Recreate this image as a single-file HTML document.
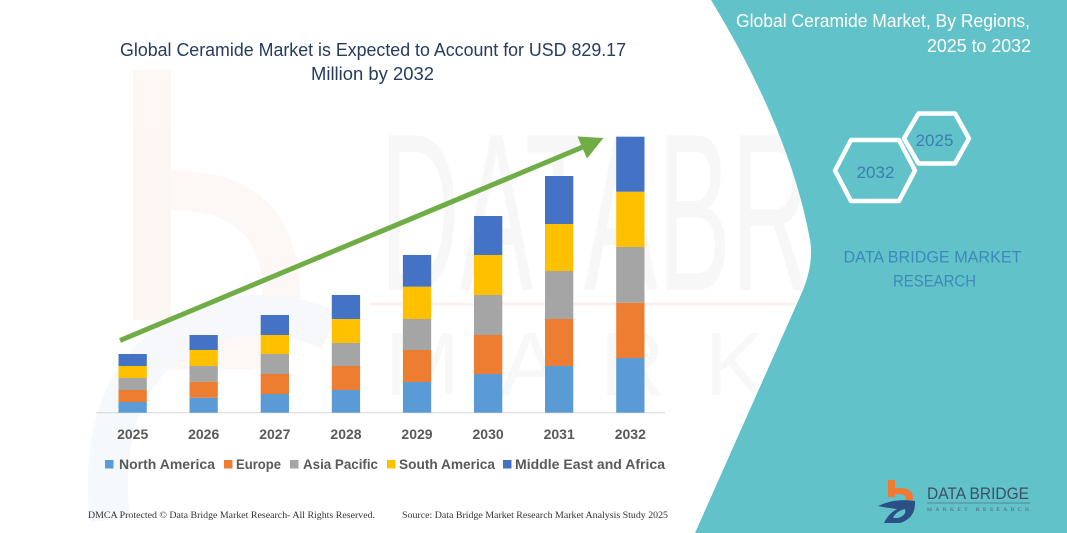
<!DOCTYPE html>
<html><head><meta charset="utf-8"><style>
html,body{margin:0;padding:0;background:#fff;}
svg{display:block;}
</style></head><body>
<svg width="1067" height="533" viewBox="0 0 1067 533" xmlns="http://www.w3.org/2000/svg">
<rect width="1067" height="533" fill="#ffffff"/>
<!-- faint watermark -->
<g opacity="0.5">
<rect x="133" y="70" width="38" height="250" fill="#fdf1ea"/>
<path d="M171 170 Q300 170 300 300 Q300 360 250 370 L171 370 L171 330 L230 330 Q262 325 262 290 Q262 210 171 210 Z" fill="#fdf3ee"/>
<path d="M110 520 Q95 380 190 330 Q260 300 330 330" fill="none" stroke="#eef3f8" stroke-width="40"/>
</g>
<text x="380" y="290" font-family="Liberation Sans, sans-serif" font-size="225" fill="#f7f7f7" textLength="700" lengthAdjust="spacingAndGlyphs">DATABRIDGE</text>
<text x="385" y="395" font-family="Liberation Sans, sans-serif" font-size="90" fill="#f8f8f8" letter-spacing="40">MARKET RESEARCH</text>
<line x1="370" y1="304" x2="1000" y2="304" stroke="#fcf2ec" stroke-width="3"/>

<!-- teal panel -->
<path d="M711 0 Q790 130 810 240 Q814 262 803 290 L695 533 L1067 533 L1067 0 Z" fill="#61c3c9"/>

<!-- title -->
<text x="373" y="56" text-anchor="middle" font-family="Liberation Sans, sans-serif" font-size="18" fill="#253c5e" textLength="506" lengthAdjust="spacingAndGlyphs">Global Ceramide Market is Expected to Account for USD 829.17</text>
<text x="372.5" y="80" text-anchor="middle" font-family="Liberation Sans, sans-serif" font-size="18" fill="#253c5e" textLength="123" lengthAdjust="spacingAndGlyphs">Million by 2032</text>

<!-- axis -->
<line x1="96" y1="412.7" x2="665" y2="412.7" stroke="#d9d9d9" stroke-width="1.2"/>

<!-- bars -->
<g>
<rect x="118.5" y="402" width="28.3" height="10.7" fill="#5b9bd5"/>
<rect x="118.5" y="390" width="28.3" height="12" fill="#ed7d31"/>
<rect x="118.5" y="378" width="28.3" height="12" fill="#a5a5a5"/>
<rect x="118.5" y="366" width="28.3" height="12" fill="#ffc000"/>
<rect x="118.5" y="354" width="28.3" height="12" fill="#4472c4"/>
<rect x="189.5" y="397.7" width="28.3" height="15" fill="#5b9bd5"/>
<rect x="189.5" y="381.7" width="28.3" height="16" fill="#ed7d31"/>
<rect x="189.5" y="366" width="28.3" height="15.7" fill="#a5a5a5"/>
<rect x="189.5" y="350" width="28.3" height="16" fill="#ffc000"/>
<rect x="189.5" y="335" width="28.3" height="15" fill="#4472c4"/>
<rect x="260.7" y="394" width="28.3" height="18.7" fill="#5b9bd5"/>
<rect x="260.7" y="374" width="28.3" height="20" fill="#ed7d31"/>
<rect x="260.7" y="354" width="28.3" height="20" fill="#a5a5a5"/>
<rect x="260.7" y="335" width="28.3" height="19" fill="#ffc000"/>
<rect x="260.7" y="315" width="28.3" height="20" fill="#4472c4"/>
<rect x="331.8" y="390" width="28.3" height="22.7" fill="#5b9bd5"/>
<rect x="331.8" y="366" width="28.3" height="24" fill="#ed7d31"/>
<rect x="331.8" y="343" width="28.3" height="23" fill="#a5a5a5"/>
<rect x="331.8" y="319" width="28.3" height="24" fill="#ffc000"/>
<rect x="331.8" y="295" width="28.3" height="24" fill="#4472c4"/>
<rect x="402.9" y="382" width="28.3" height="30.7" fill="#5b9bd5"/>
<rect x="402.9" y="350" width="28.3" height="32" fill="#ed7d31"/>
<rect x="402.9" y="319" width="28.3" height="31" fill="#a5a5a5"/>
<rect x="402.9" y="286.7" width="28.3" height="32.3" fill="#ffc000"/>
<rect x="402.9" y="255" width="28.3" height="31.7" fill="#4472c4"/>
<rect x="474" y="374" width="28.3" height="38.7" fill="#5b9bd5"/>
<rect x="474" y="335" width="28.3" height="39" fill="#ed7d31"/>
<rect x="474" y="295" width="28.3" height="40" fill="#a5a5a5"/>
<rect x="474" y="255" width="28.3" height="40" fill="#ffc000"/>
<rect x="474" y="216" width="28.3" height="39" fill="#4472c4"/>
<rect x="545" y="366" width="28.3" height="46.7" fill="#5b9bd5"/>
<rect x="545" y="319" width="28.3" height="47" fill="#ed7d31"/>
<rect x="545" y="271" width="28.3" height="48" fill="#a5a5a5"/>
<rect x="545" y="224" width="28.3" height="47" fill="#ffc000"/>
<rect x="545" y="176" width="28.3" height="48" fill="#4472c4"/>
<rect x="616.2" y="358" width="28.3" height="54.7" fill="#5b9bd5"/>
<rect x="616.2" y="302.7" width="28.3" height="55.3" fill="#ed7d31"/>
<rect x="616.2" y="247" width="28.3" height="55.7" fill="#a5a5a5"/>
<rect x="616.2" y="191.7" width="28.3" height="55.3" fill="#ffc000"/>
<rect x="616.2" y="136.7" width="28.3" height="55" fill="#4472c4"/>
</g>

<!-- arrow -->
<line x1="120" y1="340.5" x2="584" y2="146.5" stroke="#70ad47" stroke-width="5"/>
<polygon points="603.5,138 577.5,136.5 587,158.5" fill="#70ad47"/>

<!-- year labels -->
<g font-family="Liberation Sans, sans-serif" font-size="14" font-weight="bold" fill="#595959" text-anchor="middle">
<text x="132.7" y="439">2025</text>
<text x="203.7" y="439">2026</text>
<text x="274.8" y="439">2027</text>
<text x="346" y="439">2028</text>
<text x="417" y="439">2029</text>
<text x="488.1" y="439">2030</text>
<text x="559.2" y="439">2031</text>
<text x="630.3" y="439">2032</text>
</g>

<!-- legend -->
<g font-family="Liberation Sans, sans-serif" font-size="14" font-weight="bold" fill="#595959">
<rect x="105" y="460" width="8.5" height="8.5" fill="#5b9bd5"/>
<text x="119" y="469" textLength="96" lengthAdjust="spacingAndGlyphs">North America</text>
<rect x="224" y="460" width="8.5" height="8.5" fill="#ed7d31"/>
<text x="236" y="469" textLength="45" lengthAdjust="spacingAndGlyphs">Europe</text>
<rect x="290" y="460" width="8.5" height="8.5" fill="#a5a5a5"/>
<text x="303" y="469" textLength="75" lengthAdjust="spacingAndGlyphs">Asia Pacific</text>
<rect x="387" y="460" width="8.5" height="8.5" fill="#ffc000"/>
<text x="399" y="469" textLength="96" lengthAdjust="spacingAndGlyphs">South America</text>
<rect x="503" y="460" width="8.5" height="8.5" fill="#4472c4"/>
<text x="515" y="469" textLength="150" lengthAdjust="spacingAndGlyphs">Middle East and Africa</text>
</g>

<!-- footer -->
<g font-family="Liberation Serif, serif" font-size="9.5" fill="#333333">
<text x="88" y="518" textLength="287" lengthAdjust="spacingAndGlyphs">DMCA Protected © Data Bridge Market Research-  All Rights Reserved.</text>
<text x="402" y="518" textLength="266" lengthAdjust="spacingAndGlyphs">Source: Data Bridge Market Research  Market Analysis Study 2025</text>
</g>

<!-- right panel title -->
<g font-family="Liberation Sans, sans-serif" font-size="18" fill="#ffffff" text-anchor="end">
<text x="1030" y="27" textLength="294" lengthAdjust="spacingAndGlyphs">Global Ceramide Market, By Regions,</text>
<text x="1031" y="52" textLength="104" lengthAdjust="spacingAndGlyphs">2025 to 2032</text>
</g>

<!-- hexagons -->
<g fill="none" stroke="#ffffff" stroke-width="4.5" stroke-linejoin="round">
<polygon points="904,138.5 918.5,113.5 955,113.5 969,138.5 955,163.5 918.5,163.5"/>
<polygon points="835,170.5 851,140 899,140 915,170.5 899,201 851,201"/>
</g>
<g font-family="Liberation Sans, sans-serif" font-size="17" fill="#3b7db4" text-anchor="middle">
<text x="934.5" y="146">2025</text>
<text x="875.5" y="178">2032</text>
</g>

<g font-family="Liberation Sans, sans-serif" font-size="17" fill="#3d89bb" text-anchor="middle">
<text x="932.5" y="262.5" textLength="178" lengthAdjust="spacingAndGlyphs">DATA BRIDGE MARKET</text>
<text x="934.5" y="286.5" textLength="83" lengthAdjust="spacingAndGlyphs">RESEARCH</text>
</g>

<!-- logo -->
<g>
<rect x="888" y="480" width="7" height="17" fill="#ee7a33"/>
<path d="M888 488 L902 488 Q914 489 913 500 L906 500 Q906 494 899 494 L888 494 Z" fill="#ee7a33"/>
<path d="M878 506 Q895 498 915 501 Q916 518 900 523 L884 523 Q888 514 897 509 Q887 508 878 506 Z" fill="#2c4f86"/>
<path d="M893 518 Q896 511 905 509 Q907 515 898 518 Z" fill="#61c3c9"/>
<text x="927" y="499" font-family="Liberation Sans, sans-serif" font-size="17" fill="#3e4f62" textLength="102" lengthAdjust="spacingAndGlyphs">DATA BRIDGE</text>
<line x1="927" y1="503" x2="1030" y2="503" stroke="#5a6f80" stroke-width="0.8"/>
<text x="927" y="511" font-family="Liberation Serif, serif" font-size="5.5" fill="#4e6070" textLength="102" lengthAdjust="spacing">MARKET  RESEARCH</text>
</g>
</svg>
</body></html>
